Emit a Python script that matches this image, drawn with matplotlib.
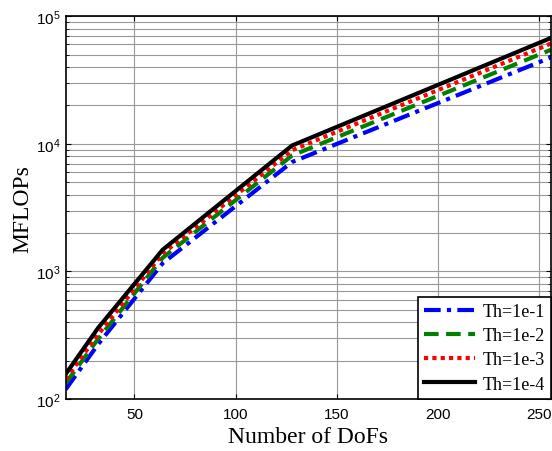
import numpy as np
import matplotlib
matplotlib.use("Agg")
import matplotlib.pyplot as plt
from matplotlib.ticker import LogLocator

plt.rcParams['mathtext.fontset'] = 'custom'
plt.rcParams['mathtext.rm'] = 'Liberation Sans'
plt.rcParams['mathtext.default'] = 'regular'

# MFLOPs against problem size for four thresholds
dofs = [16, 32, 64, 128, 256]
th_1e1 = [119, 268, 1160, 7200, 47500]
th_1e2 = [133, 295, 1280, 8100, 54500]
th_1e3 = [143, 320, 1380, 8900, 61000]
th_1e4 = [157, 360, 1480, 9700, 67500]
labels = ['Th=1e-1', 'Th=1e-2', 'Th=1e-3', 'Th=1e-4']

fig = plt.figure(figsize=(5.52, 4.52), dpi=100)
ax = fig.add_axes([0.119, 0.115, 0.879, 0.847])

ax.plot(dofs, th_1e1, color='blue', lw=3, linestyle=(0, (4, 1.5, 1, 1.5)), label=labels[0])
ax.plot(dofs, th_1e2, color='green', lw=3, linestyle=(0, (3.5, 1.8)), label=labels[1])
ax.plot(dofs, th_1e3, color='red', lw=3, linestyle=(0, (1, 1)), label=labels[2])
ax.plot(dofs, th_1e4, color='black', lw=3, label=labels[3])

ax.set_yscale('log')
ax.set_xlim(16, 256)
ax.set_ylim(1e2, 1e5)
ax.set_xticks([50, 100, 150, 200, 250])
ax.yaxis.set_major_locator(LogLocator(base=10, numticks=10))
ax.yaxis.set_minor_locator(LogLocator(base=10, subs=np.arange(2, 10), numticks=20))

ax.grid(True, which='major', color='#999999', lw=0.8)
ax.grid(True, which='minor', axis='y', color='#999999', lw=0.8)
ax.tick_params(which='both', direction='in', top=True, right=True)
ax.tick_params(labelsize=11)
ax.tick_params(axis='x', pad=6)
for lbl in ax.get_xticklabels() + ax.get_yticklabels():
    lbl.set_fontfamily('Liberation Sans')
for s in ax.spines.values():
    s.set_linewidth(1.2)

ax.set_xlabel('Number of DoFs', fontsize=17, family='Liberation Serif', labelpad=3)
ax.set_ylabel('MFLOPs', fontsize=17, family='Liberation Serif', labelpad=2)

leg = ax.legend(loc='lower right', prop={'family': 'Liberation Serif', 'size': 13},
                fancybox=False, edgecolor='black', framealpha=1,
                borderaxespad=0, handlelength=2.8, labelspacing=0.4,
                borderpad=0.35, handletextpad=0.4)
leg.get_frame().set_linewidth(1.2)

fig.savefig('out.png', dpi=100)
